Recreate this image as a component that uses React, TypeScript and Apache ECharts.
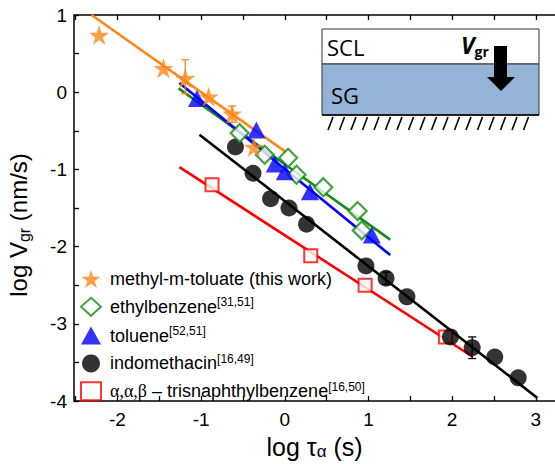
import React, { useEffect, useRef } from "react";
import * as echarts from "echarts";

// ---- data ----
const starX = [-2.22, -1.45, -1.19, -0.91, -0.63, -0.37];
const starY = [0.74, 0.31, 0.18, -0.06, -0.28, -0.71];
const starErrX = [-1.19, -0.63];
const starErrLow = [-0.02, -0.39];
const starErrHigh = [0.42, -0.18];

const diaX = [-0.54, -0.24, 0.04, 0.14, 0.46, 0.87, 0.92];
const diaY = [-0.53, -0.81, -0.85, -1.07, -1.23, -1.54, -1.79];

const triX = [-1.05, -0.34, -0.12, 0.0, 0.3, 1.04];
const triY = [-0.08, -0.49, -0.93, -1.03, -1.29, -1.85];

const cirX = [-0.59, -0.38, -0.17, 0.05, 0.26, 0.97, 1.21, 1.46, 1.98, 2.24, 2.51, 2.79];
const cirY = [-0.71, -1.05, -1.38, -1.5, -1.71, -2.25, -2.41, -2.65, -3.17, -3.31, -3.43, -3.7];
const cirErrX = [1.21, 2.24];
const cirErrLow = [-2.49, -3.45];
const cirErrHigh = [-2.33, -3.17];

const sqX = [-0.87, 0.31, 0.96, 1.92];
const sqY = [-1.2, -2.12, -2.5, -3.17];

const fitOrange = [[-2.31, 1.0], [0.02, -0.78]];
const fitGreen = [[-1.27, 0.05], [1.26, -1.91]];
const fitBlue = [[-1.26, 0.12], [1.26, -2.11]];
const fitBlack = [[-1.02, -0.55], [3.02, -3.96]];
const fitRed = [[-1.26, -0.97], [2.25, -3.43]];

const xLabelValues = [-2, -1, 0, 1, 2, 3];
const xTickValues = [-2.5, -2, -1.5, -1, -0.5, 0, 0.5, 1, 1.5, 2, 2.5, 3];
const yLabelValues = [-4, -3, -2, -1, 0, 1];
const yTickValues = [-4, -3.5, -3, -2.5, -2, -1.5, -1, -0.5, 0, 0.5, 1];

const names = {
  star: "methyl-m-toluate (this work)",
  dia: "ethylbenzene",
  tri: "toluene",
  cir: "indomethacin",
  sq: "trisnaphthylbenzene",
};
const refs: Record<string, string> = {
  [names.star]: "",
  [names.dia]: "[31,51]",
  [names.tri]: "[52,51]",
  [names.cir]: "[16,49]",
  [names.sq]: "[16,50]",
};

const ORANGE = "#ff8616";
const GREEN = "#178a17";
const BLUE = "#0000ff";
const BLACK = "#000000";
const RED = "#ff0000";
const FONT = "Liberation Sans, Arial, sans-serif";

const STAR =
  "path://M50,0 L61.2,34.5 L97.6,34.5 L68.2,55.9 L79.4,90.5 L50,69.1 L20.6,90.5 L31.8,55.9 L2.4,34.5 L38.8,34.5 Z";

const zip = (xs: number[], ys: number[]) => xs.map((x, i) => [x, ys[i]]);

function errSeries(xs: number[], lo: number[], hi: number[], color: string) {
  return {
    type: "custom",
    data: xs.map((x, i) => [x, lo[i], hi[i]]),
    z: 5,
    silent: true,
    renderItem: (_p: any, api: any) => {
      const x = api.value(0);
      const a = api.coord([x, api.value(1)]);
      const b = api.coord([x, api.value(2)]);
      const w = 4;
      const style = { stroke: color, lineWidth: 1.3 };
      return {
        type: "group",
        children: [
          { type: "line", shape: { x1: a[0], y1: a[1], x2: b[0], y2: b[1] }, style },
          { type: "line", shape: { x1: a[0] - w, y1: a[1], x2: a[0] + w, y2: a[1] }, style },
          { type: "line", shape: { x1: b[0] - w, y1: b[1], x2: b[0] + w, y2: b[1] }, style },
        ],
      };
    },
  };
}

function fitSeries(pts: number[][], color: string) {
  return {
    type: "line",
    data: pts,
    showSymbol: false,
    symbol: "none",
    lineStyle: { color, width: 2.6 },
    z: 2,
    silent: true,
  };
}

export default function App() {
  const ref = useRef<HTMLDivElement>(null);
  useEffect(() => {
    if (!ref.current) return;
    const chart = echarts.init(ref.current, undefined, { renderer: "svg" });

    const hatch: any[] = [];
    for (let i = 0; i < 18; i++) {
      const x = 333 + i * 11.5;
      hatch.push({
        type: "line",
        shape: { x1: x, y1: 117, x2: x - 5, y2: 130 },
        style: { stroke: "#000", lineWidth: 1.6 },
        z: 10,
      });
    }

    const axisX = {
      type: "value",
      min: -2.52,
      max: 3.23,
      splitLine: { show: false },
      axisLine: { onZero: false, lineStyle: { color: "#000", width: 1.5 } },
      axisTick: { inside: true, length: 5, customValues: xTickValues, lineStyle: { color: "#000", width: 1.3 } },
    };

    const option: any = {
      animation: false,
      backgroundColor: "#fff",
      grid: { left: 74, right: 0, top: 15, bottom: 63, containLabel: false, outerBoundsMode: "none" },
      xAxis: [
        {
          ...axisX,
          position: "bottom",
          name: "{a|log τ}{b|α}{a| (s)}",
          nameLocation: "middle",
          nameGap: 33,
          nameTextStyle: {
            rich: {
              a: { fontSize: 25, fontFamily: FONT, color: "#000", lineHeight: 26 },
              b: { fontSize: 17, fontFamily: FONT, color: "#000", verticalAlign: "bottom", lineHeight: 12 },
            },
          },
          axisLabel: { customValues: xLabelValues, fontSize: 19, fontFamily: FONT, color: "#000", margin: 9 },
        },
        {
          ...axisX,
          position: "top",
          axisLabel: { show: false },
        },
      ],
      yAxis: {
        type: "value",
        min: -4,
        max: 1,
        name: "{a|log V}{b|gr}{a| (nm/s)}",
        nameLocation: "middle",
        nameGap: 42,
        nameTextStyle: {
          padding: [0, 34, 0, 0],
          rich: {
            a: { fontSize: 24, fontFamily: FONT, color: "#000", lineHeight: 28 },
            b: { fontSize: 16, fontFamily: FONT, color: "#000", verticalAlign: "bottom", lineHeight: 14 },
          },
        },
        axisLine: { show: true, onZero: false, lineStyle: { color: "#000", width: 1.5 } },
        axisTick: { show: true, inside: true, length: 5, customValues: yTickValues, lineStyle: { color: "#000", width: 1.3 } },
        axisLabel: { customValues: yLabelValues, fontSize: 19, fontFamily: FONT, color: "#000", margin: 7 },
        splitLine: { show: false },
      },
      legend: {
        orient: "vertical",
        left: 80,
        top: 270,
        padding: 0,
        itemGap: 8.3,
        itemWidth: 20,
        itemHeight: 18,
        data: [names.star, names.dia, names.tri, names.cir, names.sq],
        formatter: (n: string) => {
          if (n === names.sq) return "{g|α,α,β}{t| – trisnaphthylbenzene}{s|" + refs[n] + "}";
          if (!refs[n]) return "{t|" + n + "}";
          return "{t|" + n + "}{s|" + refs[n] + "}";
        },
        textStyle: {
          fontFamily: FONT,
          fontSize: 18,
          color: "#000",
          padding: [0, 0, 0, 4],
          rich: {
            t: { fontSize: 18, fontFamily: FONT, color: "#000", lineHeight: 21 },
            g: { fontSize: 18, fontFamily: "Liberation Serif, serif", color: "#000", lineHeight: 21 },
            s: { fontSize: 12, fontFamily: FONT, color: "#000", verticalAlign: "top", lineHeight: 10 },
          },
        },
      },
      series: [
        fitSeries(fitOrange, ORANGE),
        fitSeries(fitGreen, GREEN),
        fitSeries(fitBlue, BLUE),
        fitSeries(fitBlack, BLACK),
        fitSeries(fitRed, RED),
        {
          name: names.sq,
          type: "scatter",
          data: zip(sqX, sqY),
          symbol: "rect",
          symbolSize: 13,
          itemStyle: { color: "#fff", borderColor: RED, borderWidth: 2 },
          z: 4,
        },
        {
          name: names.cir,
          type: "scatter",
          data: zip(cirX, cirY),
          symbol: "circle",
          symbolSize: 17,
          itemStyle: { color: BLACK },
          z: 4,
        },
        {
          name: names.dia,
          type: "scatter",
          data: zip(diaX, diaY),
          symbol: "diamond",
          symbolSize: 18,
          itemStyle: { color: "#fff", borderColor: GREEN, borderWidth: 2.2 },
          z: 4,
        },
        {
          name: names.tri,
          type: "scatter",
          data: zip(triX, triY),
          symbol: "triangle",
          symbolSize: [18, 17],
          itemStyle: { color: BLUE },
          z: 4,
        },
        {
          name: names.star,
          type: "scatter",
          data: zip(starX, starY),
          symbol: STAR,
          symbolSize: 20,
          itemStyle: { color: ORANGE },
          z: 4,
        },
        errSeries(starErrX, starErrLow, starErrHigh, ORANGE),
        errSeries(cirErrX, cirErrLow, cirErrHigh, BLACK),
      ],
      graphic: [
        {
          type: "rect",
          shape: { x: 322, y: 29, width: 217, height: 35 },
          style: { fill: "#fff", stroke: "#333", lineWidth: 1 },
          z: 10,
        },
        {
          type: "rect",
          shape: { x: 322, y: 64, width: 217, height: 51 },
          style: { fill: "#95b3d7", stroke: "#333", lineWidth: 1 },
          z: 10,
        },
        {
          type: "line",
          shape: { x1: 322, y1: 115, x2: 539, y2: 115 },
          style: { stroke: "#000", lineWidth: 1.5 },
          z: 11,
        },
        ...hatch,
        {
          type: "text",
          x: 327,
          y: 47,
          style: { text: "SCL", font: "22px 'Open Sans', sans-serif", fill: "#000", verticalAlign: "middle" },
          z: 11,
        },
        {
          type: "text",
          x: 331,
          y: 95,
          style: { text: "SG", font: "22px 'Open Sans', sans-serif", fill: "#000", verticalAlign: "middle" },
          z: 11,
        },
        {
          type: "text",
          x: 461,
          y: 45,
          style: {
            text: "{v|V}{s|gr}",
            verticalAlign: "middle",
            rich: {
              v: { font: "italic bold 23px 'Open Sans', sans-serif", fill: "#000", lineHeight: 26 },
              s: { font: "bold 14px 'Open Sans', sans-serif", fill: "#000", verticalAlign: "bottom", lineHeight: 14 },
            },
          },
          z: 11,
        },
        {
          type: "polygon",
          shape: {
            points: [
              [494, 46],
              [507, 46],
              [507, 77],
              [515, 77],
              [501, 91],
              [487, 77],
              [494, 77],
            ],
          },
          style: { fill: "#000" },
          z: 11,
        },
      ],
    };
    chart.setOption(option);
    return () => chart.dispose();
  }, []);
  return <div ref={ref} style={{ width: 555, height: 464, position: "absolute", left: 0, top: 0 }} />;
}
